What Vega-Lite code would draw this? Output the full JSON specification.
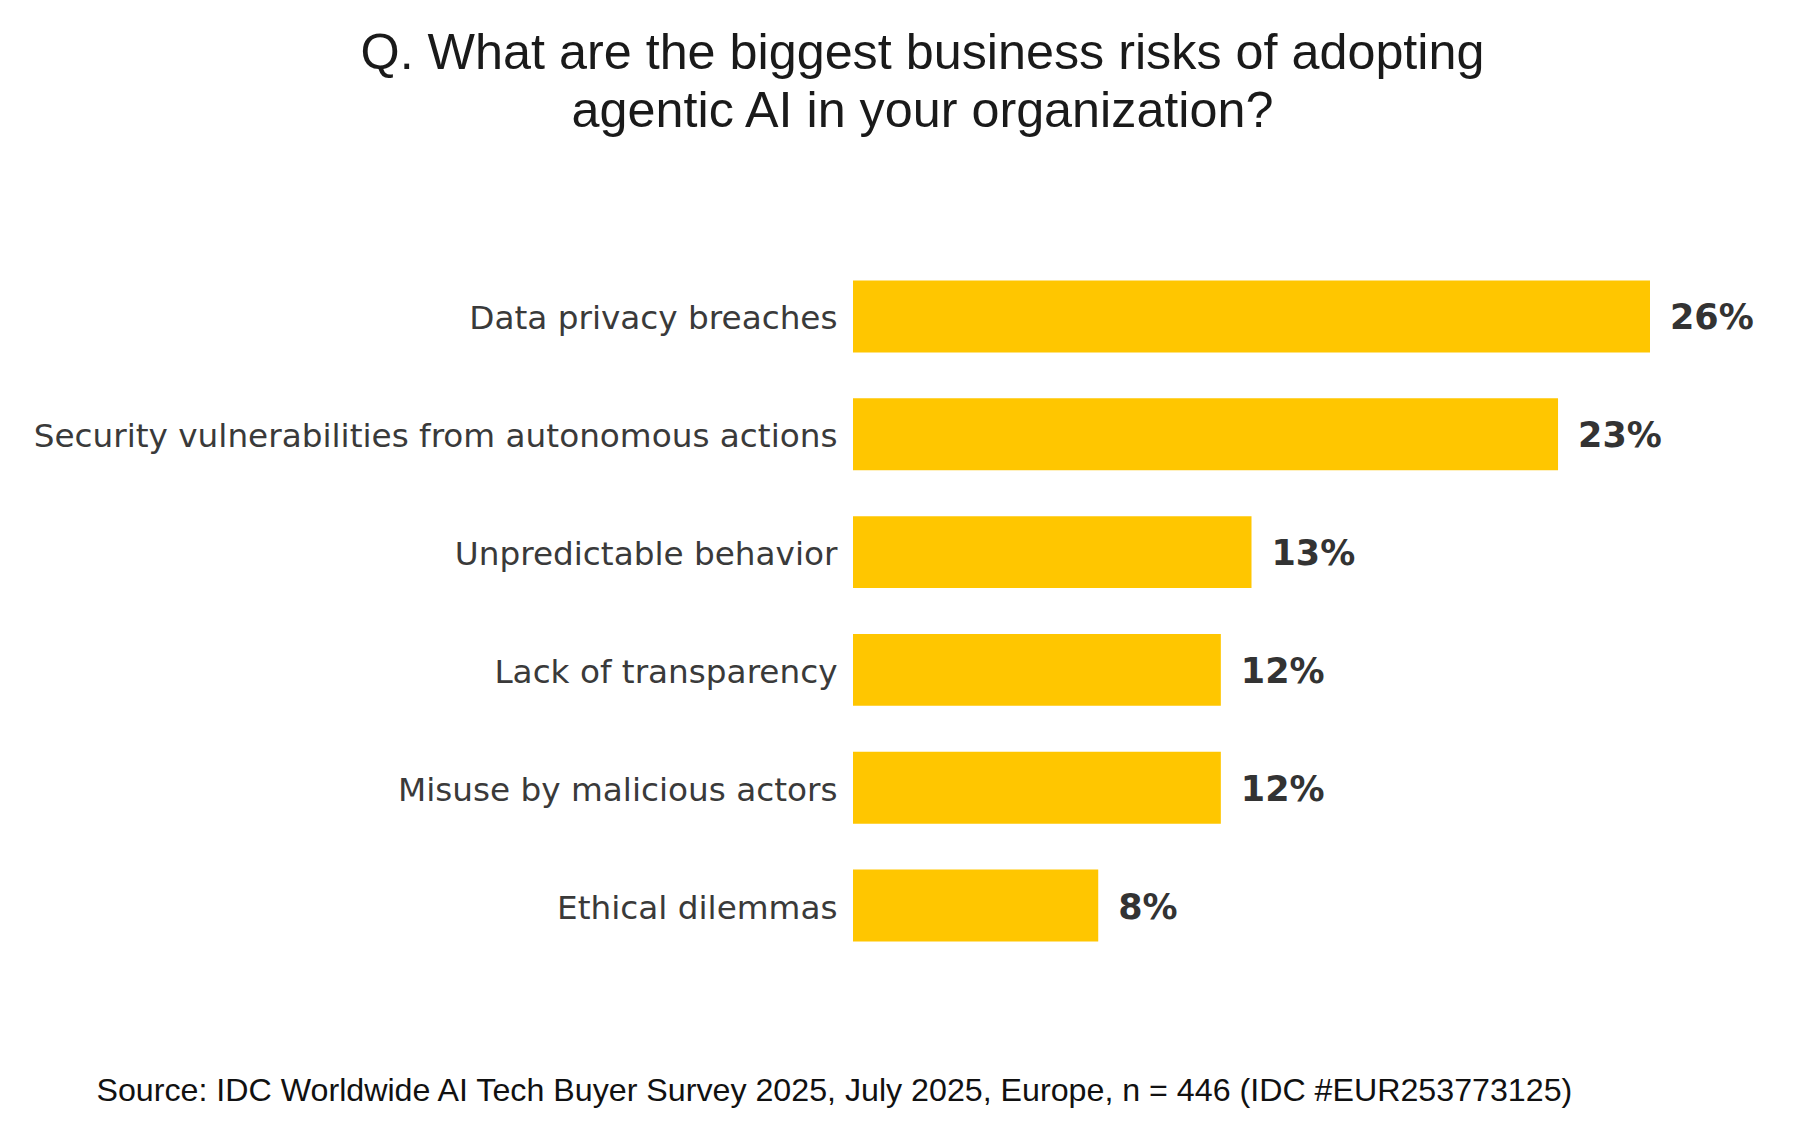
{
  "$schema": "https://vega.github.io/schema/vega-lite/v6.json",
  "autosize": "none",
  "width": 797,
  "height": 708,
  "padding": {"left": 853, "top": 257, "right": 155, "bottom": 182},
  "background": "white",
  "data": {
    "values": [
      {"risk": "Data privacy breaches", "share": 0.26},
      {"risk": "Security vulnerabilities from autonomous actions", "share": 0.23},
      {"risk": "Unpredictable behavior", "share": 0.13},
      {"risk": "Lack of transparency", "share": 0.12},
      {"risk": "Misuse by malicious actors", "share": 0.12},
      {"risk": "Ethical dilemmas", "share": 0.08}
    ]
  },
  "title": {
    "text": ["Q. What are the biggest business risks of adopting", "agentic AI in your organization?"],
    "font": "Liberation Sans",
    "fontSize": 50.3,
    "fontWeight": "normal",
    "color": "#1a1a1a",
    "anchor": "middle",
    "frame": "group",
    "dx": -329,
    "baseline": "alphabetic",
    "lineHeight": 58,
    "offset": 80
  },
  "encoding": {
    "y": {
      "field": "risk",
      "type": "nominal",
      "sort": null,
      "scale": {"paddingInner": 0.39, "paddingOuter": 0.2},
      "axis": {
        "title": null,
        "domain": false,
        "ticks": false,
        "labelPadding": 16,
        "labelOffset": 3,
        "labelFont": "DejaVu Sans",
        "labelFontSize": 32.7,
        "labelColor": "#3a3a3a",
        "labelLimit": 0
      }
    },
    "x": {
      "field": "share",
      "type": "quantitative",
      "scale": {"domain": [0, 0.26], "nice": false},
      "axis": {
        "domain": false,
        "ticks": false,
        "labels": false,
        "grid": false,
        "title": "Source: IDC Worldwide AI Tech Buyer Survey 2025, July 2025, Europe, n = 446 (IDC #EUR253773125)",
        "titleFont": "Liberation Sans",
        "titleFontSize": 32.2,
        "titleFontWeight": "normal",
        "titleColor": "#111111",
        "titleAlign": "left",
        "titleBaseline": "alphabetic",
        "titleX": -757,
        "titleY": 135
      }
    }
  },
  "layer": [
    {"mark": {"type": "bar", "color": "#FFC600"}},
    {
      "mark": {
        "type": "text",
        "align": "left",
        "baseline": "middle",
        "dx": 20,
        "dy": 2,
        "font": "DejaVu Sans",
        "fontWeight": "bold",
        "fontSize": 35,
        "color": "#333333"
      },
      "encoding": {
        "text": {"field": "share", "type": "quantitative", "format": ".0%"}
      }
    }
  ],
  "config": {
    "view": {"stroke": null}
  }
}
